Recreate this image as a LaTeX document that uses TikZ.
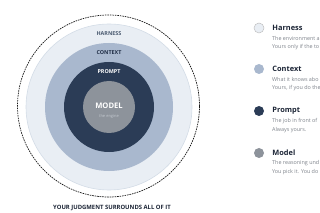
\documentclass[tikz,border=0pt]{standalone}
\usepackage{fontspec}
\setmainfont{Open Sans}
\usetikzlibrary{positioning}
\definecolor{harnessfill}{HTML}{E9EEF4}
\definecolor{harnessline}{HTML}{D3DCE6}
\definecolor{contextfill}{HTML}{A9B8CE}
\definecolor{promptfill}{HTML}{2B3C56}
\definecolor{modelfill}{HTML}{8D939B}
\definecolor{harnesstext}{HTML}{4A5A70}
\definecolor{contexttext}{HTML}{1F2D45}
\definecolor{enginetext}{HTML}{C3C8CF}
\definecolor{titlecol}{HTML}{1B2435}
\definecolor{textcol}{HTML}{7D828A}
\begin{document}
\begin{tikzpicture}[x=1pt,y=-1pt,
  ring/.style={circle,inner sep=0pt},
  ringlabel/.style={font=\bfseries\fontsize{5.4}{6}\selectfont},
  keydot/.style={circle,minimum size=10pt,inner sep=0pt},
  keytitle/.style={anchor=west,inner sep=0pt,font=\bfseries\fontsize{7.4}{8}\selectfont,text=titlecol},
  keytext/.style={anchor=west,inner sep=0pt,font=\fontsize{5.4}{6}\selectfont,text=textcol}]
\useasboundingbox (0,0) rectangle (320,213);
\node[ring,draw=black!90,line width=0.7pt,dash pattern=on 1.6pt off 0.9pt,minimum size=182pt] (judgment) at (108.5,106) {};
\node[ring,fill=harnessfill,draw=harnessline,line width=0.6pt,minimum size=166pt] (harness) at (109,107) {};
\node[ring,fill=contextfill,minimum size=128pt] (context) at (109,107) {};
\node[ring,fill=promptfill,minimum size=90pt] (prompt) at (109,107) {};
\node[ring,fill=modelfill,minimum size=52pt] (model) at (109,107) {};
\node[ringlabel,text=harnesstext] (harnesslabel) at (109,34) {HARNESS};
\node[ringlabel,text=contexttext] (contextlabel) at (109,53) {CONTEXT};
\node[ringlabel,text=white] (promptlabel) at (109,72) {PROMPT};
\node[font=\bfseries\fontsize{7.6}{8}\selectfont,text=white] (modellabel) at (109,106) {MODEL};
\node[font=\fontsize{4}{4}\selectfont,text=enginetext] (enginelabel) at (109,116) {the engine};
\node[font=\bfseries\fontsize{5.9}{7}\selectfont,text=titlecol] (judgmentlabel) at (112,208) {YOUR JUDGMENT SURROUNDS ALL OF IT};

\node[keydot,fill=harnessfill,draw=black!25,line width=0.5pt] (harnessdot) at (259,28) {};
\node[keytitle,right=8pt of harnessdot] (harnesstitle) {Harness};
\node[keytext] (harnessline1) at (272,38) {The environment a};
\node[keytext] (harnessline2) at (272,47) {Yours only if the to};

\node[keydot,fill=contextfill] (contextdot) at (259,69) {};
\node[keytitle,right=8pt of contextdot] (contexttitle) {Context};
\node[keytext] (contextline1) at (272,79) {What it knows abo};
\node[keytext] (contextline2) at (272,88) {Yours, if you do the};

\node[keydot,fill=promptfill] (promptdot) at (259,111) {};
\node[keytitle,right=8pt of promptdot] (prompttitle) {Prompt};
\node[keytext] (promptline1) at (272,121) {The job in front of};
\node[keytext] (promptline2) at (272,130) {Always yours.};

\node[keydot,fill=modelfill] (modeldot) at (259,153) {};
\node[keytitle,right=8pt of modeldot] (modeltitle) {Model};
\node[keytext] (modelline1) at (272,163) {The reasoning und};
\node[keytext] (modelline2) at (272,172) {You pick it. You do};
\end{tikzpicture}
\end{document}
